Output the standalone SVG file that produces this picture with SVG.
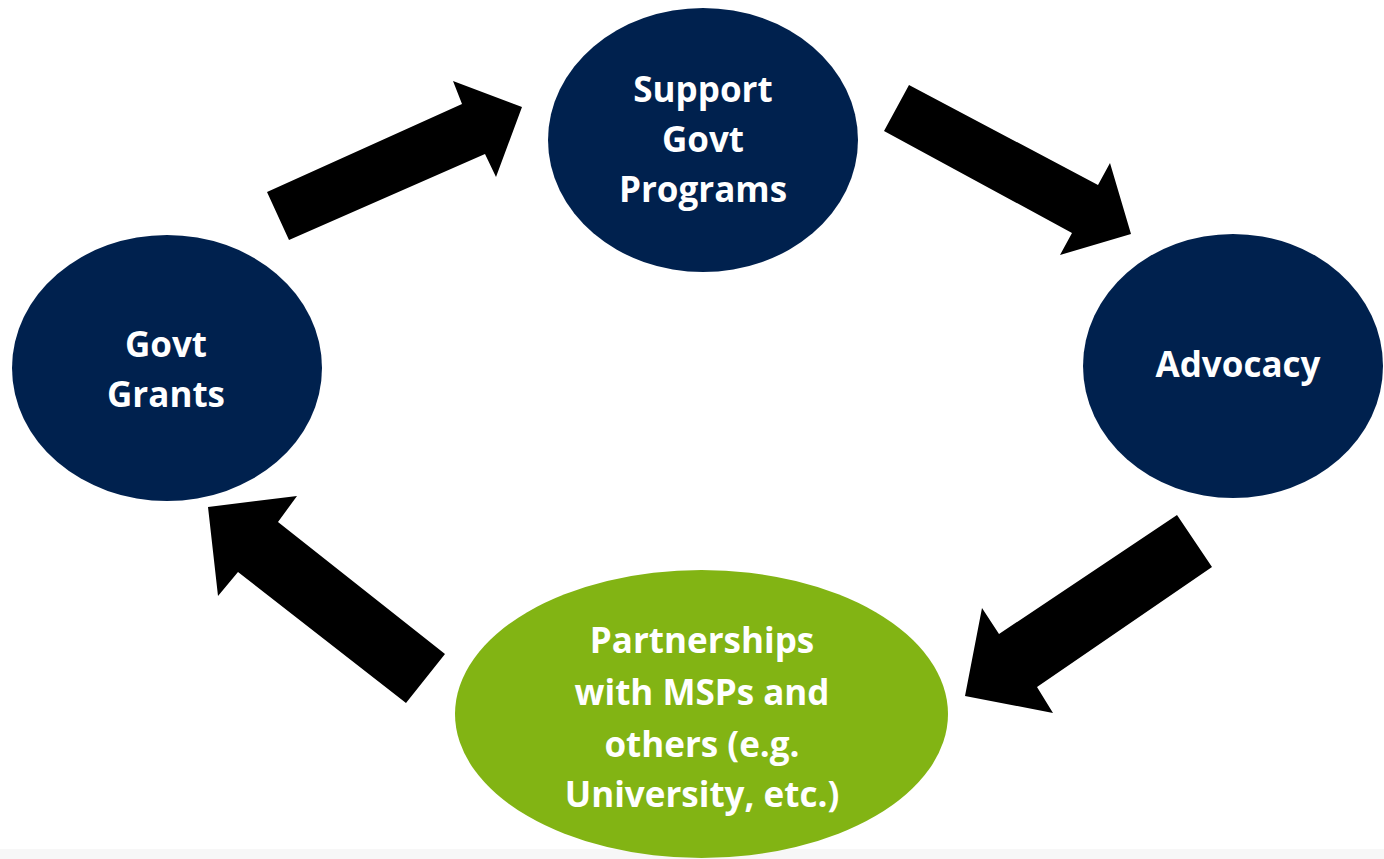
<svg xmlns="http://www.w3.org/2000/svg" width="1384" height="859" viewBox="0 0 1384 859">
  <style>
    .navy { fill: #00214e; }
    .green { fill: #82b414; }
    .lbl { font-family: "Open Sans", "Noto Sans", "Liberation Sans", sans-serif; font-weight: 700; font-size: 35px; fill: #ffffff; text-anchor: middle; }
    .arrow { fill: #000000; }
  </style>
  <rect x="0" y="0" width="1384" height="859" fill="#ffffff"/>
  <rect x="0" y="849" width="1384" height="10" fill="#f7f7f7"/>
  <g id="connectors">
    <polygon class="arrow" points="267,192 462,104 453,81 522,107 496,177 485,154 289,240"/>
    <polygon class="arrow" points="909,85 1098,185 1110,163 1131,234 1060,255 1072,233 884,131"/>
    <polygon class="arrow" points="1177,515 1212,567 1037,687 1053,713 965,696 982,608 999,634"/>
    <polygon class="arrow" points="445,654 278,522 297,496 208,507 218,596 238,572 406,703"/>
  </g>
  <g id="node-support">
    <ellipse class="navy" cx="703" cy="140" rx="155" ry="132"/>
    <text class="lbl" x="703" y="102">Support</text>
    <text class="lbl" x="703" y="152">Govt</text>
    <text class="lbl" x="703" y="202">Programs</text>
  </g>
  <g id="node-advocacy">
    <ellipse class="navy" cx="1233" cy="366" rx="150" ry="132"/>
    <text class="lbl" x="1238" y="377">Advocacy</text>
  </g>
  <g id="node-partnerships">
    <ellipse class="green" cx="701.5" cy="714" rx="246.5" ry="144"/>
    <text class="lbl" x="702" y="653">Partnerships</text>
    <text class="lbl" x="702" y="705">with MSPs and</text>
    <text class="lbl" x="702" y="757">others (e.g.</text>
    <text class="lbl" x="702" y="807">University, etc.)</text>
  </g>
  <g id="node-grants">
    <ellipse class="navy" cx="167" cy="368" rx="155" ry="133"/>
    <text class="lbl" x="166" y="357">Govt</text>
    <text class="lbl" x="166" y="407">Grants</text>
  </g>
</svg>
